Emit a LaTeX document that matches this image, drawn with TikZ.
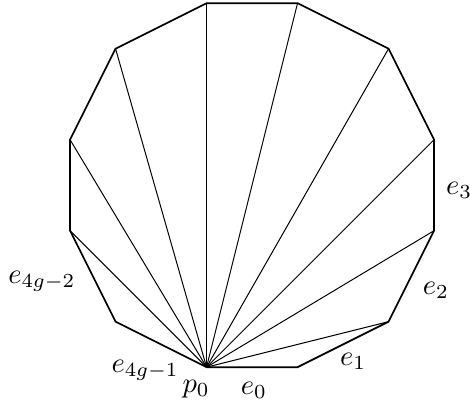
\documentclass[tikz,border=0pt]{standalone}
\usepackage{amsmath,amssymb}
\usepackage{tikz}
\tikzset{
  edg/.style  = {line width=0.6pt, black, line join=miter},
  diag/.style = {line width=0.35pt, black},
  lbl/.style  = {inner sep=0pt},
}

\begin{document}
\begin{tikzpicture}[x=0.56cm, y=0.56cm]
  \useasboundingbox (-5.54,-4.835) rectangle (4.79,4.07);
  % corners of the polygon, p0 at the bottom
  \foreach \i/\xy in {0/{-1,-4}, 1/{1,-4}, 2/{3,-3}, 3/{4,-1}, 4/{4,1}, 5/{3,3},
                      6/{1,4}, 7/{-1,4}, 8/{-3,3}, 9/{-4,1}, 10/{-4,-1}, 11/{-3,-3}}
    \coordinate (p\i) at (\xy);
  % fan from p0
  \foreach \i in {2,...,10}
    \draw[diag] (p0) -- (p\i);
  \draw[edg] (p0) \foreach \i in {1,...,11} { -- (p\i) } -- cycle;
  % labels
  \node[lbl] (lp0)   at (-1.23,-4.48) {$p_0$};
  \node[lbl] (le0)   at (0.04,-4.51)  {$e_0$};
  \node[lbl] (le1)   at (2.22,-3.87)  {$e_1$};
  \node[lbl] (le2)   at (4.04,-2.31)  {$e_2$};
  \node[lbl] (le3)   at (4.55,-0.11)  {$e_3$};
  \node[lbl] (le4g2) at (-4.62,-2.11) {$e_{4g-2}$};
  \node[lbl] (le4g1) at (-2.35,-4.07) {$e_{4g-1}$};
\end{tikzpicture}
\end{document}
